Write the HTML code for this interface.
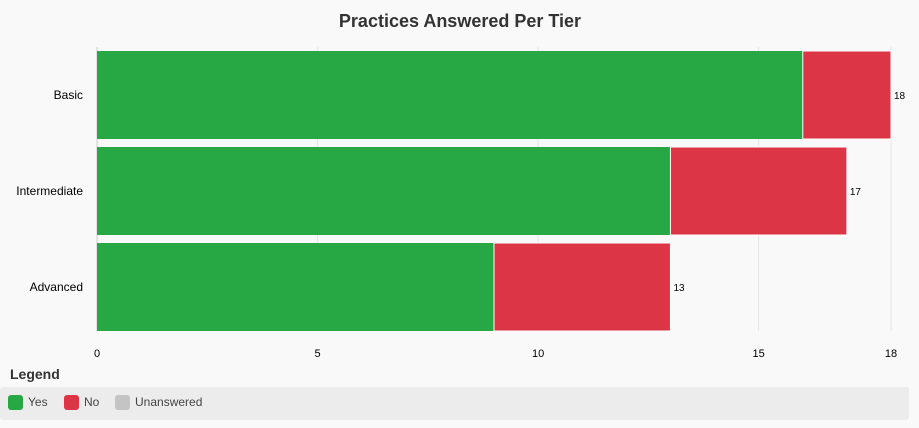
<!DOCTYPE html>
<html><head><meta charset="utf-8"><style>
body{margin:0;width:919px;height:428px;background:#f9f9f9;font-family:"Liberation Sans",sans-serif;overflow:hidden;position:relative}
svg{position:absolute;left:0;top:0}
</style></head><body>
<svg id="c" width="919" height="428">
<text x="460" y="27" text-anchor="middle" font-size="18" font-weight="bold" fill="#333">Practices Answered Per Tier</text>
<g id="grid"></g><g id="bars"></g><g id="labels"></g>
<text x="10" y="379" font-size="14" font-weight="bold" fill="#333">Legend</text>
<rect x="0" y="387" width="909" height="33" rx="3" fill="#ececec"/>
<g><rect x="8" y="395" width="15" height="15" rx="3" fill="#28a745"/><text x="28" y="406" font-size="12" fill="#444">Yes</text></g>
<g><rect x="64" y="395" width="15" height="15" rx="3" fill="#dc3545"/><text x="84" y="406" font-size="12" fill="#444">No</text></g>
<g><rect x="115" y="395" width="15" height="15" rx="3" fill="#c4c4c4"/><text x="135" y="406" font-size="12" fill="#444">Unanswered</text></g>
</svg>
<script>
const categories=["Basic","Intermediate","Advanced"];
const yesValues=[16,13,9];
const noValues=[2,4,4];
const unansweredValues=[0,0,0];
const ticks=[0,5,10,15,18];
const xMax=18;
const NS="http://www.w3.org/2000/svg";
const x0=97,x1=891,yTop=47,band=96;
const xs=v=>x0+(x1-x0)*v/xMax;
function mk(tag,attrs,parent){const e=document.createElementNS(NS,tag);for(const k in attrs)e.setAttribute(k,attrs[k]);document.getElementById(parent).appendChild(e);return e;}
ticks.forEach(t=>{
  const l=mk('line',{x1:xs(t),x2:xs(t),y1:yTop,y2:331,stroke:t===0?'#ccc':'#e4e4e4','stroke-width':1},'grid');
  
  
  const tx=mk('text',{x:xs(t),y:357,'text-anchor':'middle','font-size':11,fill:'#000'},'labels');
  tx.textContent=t;
  
  
});
categories.forEach((c,i)=>{
  const y=yTop+4+i*band,h=88;
  const yes=mk('rect',{x:xs(0),y:y,width:xs(yesValues[i])-xs(0),height:h,fill:'#28a745'},'bars');
  
  
  const no=mk('rect',{x:xs(yesValues[i]),y:y,width:xs(yesValues[i]+noValues[i])-xs(yesValues[i]),height:h,fill:'#dc3545',stroke:'#fff','stroke-width':1},'bars');
  
  
  const tot=yesValues[i]+noValues[i]+unansweredValues[i];
  const tl=mk('text',{x:xs(tot)+3,y:y+h/2+4,'font-size':10,fill:'#000'},'labels');
  tl.textContent=tot;
  
  
  const cl=mk('text',{x:83,y:y+h/2+4,'text-anchor':'end','font-size':12,fill:'#000'},'labels');
  cl.textContent=c;
  
  
});
</script>
</body></html>
